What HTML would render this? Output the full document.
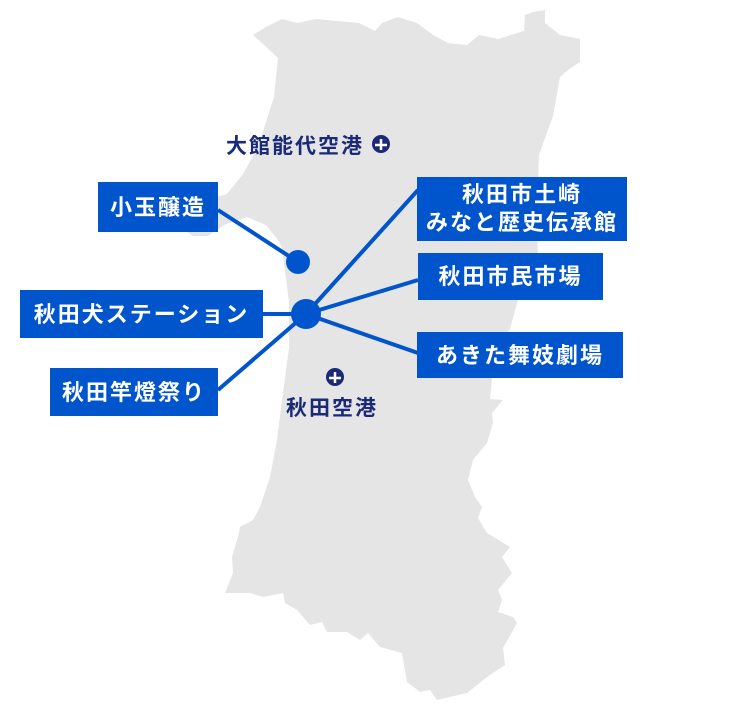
<!DOCTYPE html>
<html><head><meta charset="utf-8"><style>
body{margin:0;background:#fff;width:750px;height:710px;overflow:hidden;position:relative;font-family:"Liberation Sans","Noto Sans CJK JP",sans-serif}
.b{position:absolute;background:#0055cc;color:#fff;font-weight:bold;font-size:22px;line-height:27px;text-align:center;display:flex;align-items:center;justify-content:center;letter-spacing:2px;white-space:nowrap}
.l{position:absolute;color:#1b2a78;font-size:21px;font-weight:bold;white-space:nowrap;letter-spacing:2px}
</style></head><body>
<svg width="750" height="710" style="position:absolute;left:0;top:0">
<path fill="#e5e5e5" d="M253,35 L266,27 282,19 297,23 316,19 359,23 375,31 382,23 398,17 417,23 433,35 448,43 467,45 479,35 498,39 524,31 525,15 533,12 545,10 545,23 560,35 580,39 580,62 568,70 560,77 553,116 539,155 537,209 538,267 522,285 510,329 495,348 490,399 503,400 492,413 493,423 487,443 473,460 468,480 475,497 482,507 478,518 487,533 510,547 502,557 512,573 498,590 502,600 498,612 513,617 517,623 503,648 505,665 487,677 467,693 437,700 430,690 420,692 407,682 402,653 380,647 368,633 360,640 347,632 327,632 322,622 310,625 297,610 285,603 283,593 263,597 250,593 225,593 233,573 232,557 238,537 240,527 253,520 260,507 270,477 277,440 282,400 289,348 289,302 285,271 282,248 278,240 266,225 247,217 224,225 208,236 193,236 177,225 181,209 200,201 227,194 243,174 258,147 274,97 278,58 262,43 Z"/>
<path fill="#fff" d="M258,250 L262,240 268,236 272,244 276,250 280,262 282,276 276,282 270,270 262,262 Z"/>
<g stroke="#0055cc" stroke-width="4" fill="none">
<line x1="218" y1="210" x2="298" y2="262"/>
<line x1="263" y1="314" x2="306" y2="314"/>
<line x1="218" y1="390" x2="306" y2="314"/>
<line x1="306" y1="314" x2="418" y2="190"/>
<line x1="306" y1="314" x2="418" y2="280"/>
<line x1="306" y1="314" x2="418" y2="353"/>
</g>
<circle cx="298" cy="262" r="12" fill="#0055cc"/>
<circle cx="306" cy="314" r="15" fill="#0055cc"/>
<g fill="#1b2a78"><circle cx="381" cy="144" r="9"/><circle cx="335" cy="377" r="9"/></g>
<g stroke="#fff" stroke-width="2.5"><line x1="375" y1="145" x2="387" y2="145"/><line x1="381" y1="139" x2="381" y2="150"/><line x1="329" y1="378" x2="341" y2="378"/><line x1="335" y1="372" x2="335" y2="383"/></g>
</svg>
<div class="l" style="left:226px;top:130px">大館能代空港</div>
<div class="l" style="left:286px;top:392px">秋田空港</div>
<div class="b" style="left:98px;top:182px;width:120px;height:50px">小玉醸造</div>
<div class="b" style="left:20px;top:290px;width:243px;height:48px">秋田犬ステーション</div>
<div class="b" style="left:50px;top:368px;width:168px;height:48px">秋田竿燈祭り</div>
<div class="b" style="left:417px;top:177px;width:210px;height:64px;line-height:28px">秋田市土崎<br>みなと歴史伝承館</div>
<div class="b" style="left:418px;top:253px;width:185px;height:47px">秋田市民市場</div>
<div class="b" style="left:417px;top:332px;width:206px;height:46px">あきた舞妓劇場</div>
</body></html>
